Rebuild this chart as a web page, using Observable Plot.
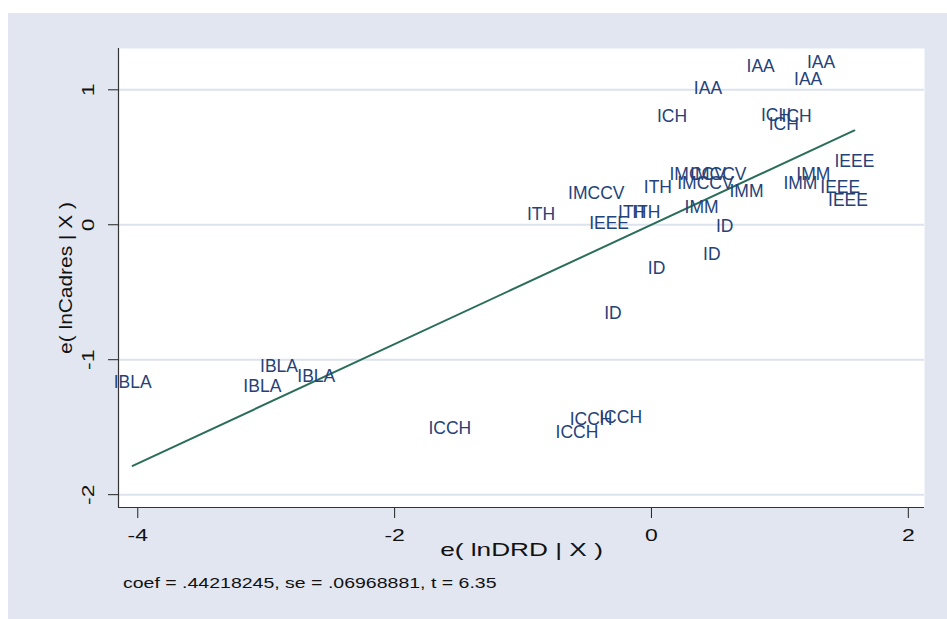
<!DOCTYPE html>
<html>
<head>
<meta charset="utf-8">
<script src="https://cdn.jsdelivr.net/npm/d3@7"></script>
<script src="https://cdn.jsdelivr.net/npm/@observablehq/plot@0.6"></script>
<style>
  html, body { margin: 0; padding: 0; background: #ffffff; overflow: hidden; width: 947px; height: 619px; }
  #bg { position: absolute; left: 8px; top: 13px; width: 939px; height: 606px; background: #e1e6f0; }
  #chart { position: absolute; left: 0; top: 0; }
  #caption { position: absolute; left: 123px; top: 574px; font-family: "Liberation Sans", Arial, sans-serif; font-size: 15px; color: #111; white-space: nowrap; transform-origin: 0 0; transform: scaleX(1.3); }
</style>
</head>
<body>
<div id="bg"></div>
<div id="chart"></div>
<div id="caption"></div>
<script>
const labels = [
  "IBLA","IBLA","IBLA","IBLA",
  "ICCH","ICCH","ICCH","ICCH",
  "ID","ID","ID","ID",
  "IEEE","IEEE","IEEE","IEEE",
  "ITH","ITH","ITH","ITH",
  "IMCCV","IMCCV","IMCCV","IMCCV",
  "IMM","IMM","IMM","IMM",
  "IAA","IAA","IAA","IAA",
  "ICH","ICH","ICH","ICH"
];
const xValues = [
  -4.04, -2.90, -3.03, -2.61,
  -1.57, -0.47, -0.24, -0.58,
  -0.30, 0.04, 0.47, 0.57,
  -0.33, 1.58, 1.47, 1.53,
  -0.86, -0.15, -0.04, 0.05,
  -0.43, 0.36, 0.52, 0.42,
  0.39, 0.74, 1.16, 1.26,
  0.85, 1.32, 1.22, 0.44,
  0.16, 0.97, 1.13, 1.03
];
const yValues = [
  -1.17, -1.05, -1.20, -1.12,
  -1.51, -1.44, -1.425, -1.54,
  -0.66, -0.32, -0.22, -0.01,
  0.01, 0.47, 0.28, 0.18,
  0.08, 0.09, 0.09, 0.28,
  0.23, 0.37, 0.37, 0.31,
  0.13, 0.25, 0.31, 0.37,
  1.17, 1.20, 1.08, 1.01,
  0.80, 0.81, 0.80, 0.74
];
const coef = 0.44218245;
const se = 0.06968881;
const tStat = 6.35;
const intercept = 0;
const xTicks = [-4, -2, 0, 2];
const yTicks = [-2, -1, 0, 1];
const xTitle = "e( lnDRD | X )";
const yTitle = "e( lnCadres | X )";
const captionText = "coef = .44218245, se = .06968881, t = 6.35";

const points = labels.map((l, i) => ({label: l, x: xValues[i], y: yValues[i]}));
const xMin = d3.min(xValues), xMax = d3.max(xValues);
const fit = [xMin, xMax].map(x => ({x, y: intercept + coef * x}));

const xDomain = [-4.15, 2.126];
const yDomain = [-2.095, 1.306];
const sans = '"Liberation Sans", Arial, sans-serif';

const chart = Plot.plot({
  width: 947,
  height: 570,
  marginLeft: 118,
  marginRight: 23,
  marginTop: 48,
  marginBottom: 63,
  style: {background: "transparent", fontFamily: sans},
  x: {domain: xDomain, axis: null},
  y: {domain: yDomain, axis: null},
  marks: [
    Plot.frame({fill: "white", stroke: "none"}),
    Plot.gridY(yTicks, {stroke: "#dde3ee", strokeOpacity: 1, strokeWidth: 2}),
    Plot.axisX({ticks: xTicks, tickSize: 11, tickPadding: 10, fontSize: 17, tickFormat: d => String(d), label: null, stroke: "#222", fill: "#111"}),
    Plot.axisY({ticks: yTicks, tickSize: 10, tickFormat: () => "", label: null, stroke: "#222"}),
    Plot.text(yTicks, {frameAnchor: "left", y: d => d, text: d => String(d), dx: -30, rotate: -90, textAnchor: "middle", fontSize: 17, fill: "#111"}),
    Plot.ruleX([xDomain[0]], {stroke: "#333", strokeWidth: 1.2}),
    Plot.ruleY([yDomain[0]], {stroke: "#333", strokeWidth: 1.2}),
    Plot.line(fit, {x: "x", y: "y", stroke: "#2a6e5a", strokeWidth: 2}),
    Plot.text(points, {x: "x", y: "y", text: "label", fill: "#24427a", fontSize: 17.5}),
    Plot.text([xTitle], {frameAnchor: "bottom", dy: 48, textAnchor: "middle", fontSize: 19, fill: "#111"}),
    Plot.text([yTitle], {frameAnchor: "left", dx: -53, rotate: -90, textAnchor: "middle", fontSize: 19, fill: "#111"})
  ]
});
document.getElementById("chart").appendChild(chart);
document.getElementById("caption").textContent = captionText;

// widen glyphs like the reference rendering
const stretchFactor = new Map([
  [xTitle, 1.38],
  [yTitle, 1.1],
  ...xTicks.map(t => [String(t), 1.35]),
  ...yTicks.map(t => [String(t), 1.35])
]);
d3.select(chart).selectAll("text").each(function () {
  const f = stretchFactor.get(this.textContent);
  if (!f) return;
  const w = this.getComputedTextLength();
  if (w > 0) {
    this.setAttribute("textLength", w * f);
    this.setAttribute("lengthAdjust", "spacingAndGlyphs");
  }
});
</script>
</body>
</html>
